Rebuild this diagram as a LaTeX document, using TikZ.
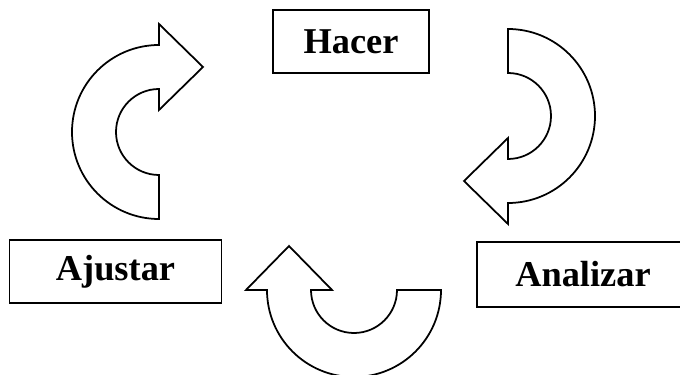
\documentclass[tikz,border=0pt]{standalone}
\usepackage{fontspec}
\setmainfont{Liberation Serif}
\tikzset{>=stealth}
\usetikzlibrary{positioning}
\tikzset{
	caja/.style={draw,line width=1pt,inner sep=0pt,minimum height=1.26cm,
		font=\bfseries\fontsize{20.7}{25}\selectfont},
	flecha/.style={draw,line width=1pt,line join=miter,fill=white}
}

\begin{document}
\begin{tikzpicture}[x=0.02cm,y=0.02cm]
		\useasboundingbox (0,0) rectangle (680,375);
		% cajas
		\node[caja,minimum width=3.12cm] (hacer) at (351,333.5) {Hacer};
		\node[caja,minimum width=4.24cm] (ajustar) at (115.5,103.5) {Ajustar};
		\node[caja,minimum width=4.24cm,minimum height=1.3cm] (analizar) at (583,100.5) {Analizar};
		% flecha arriba izquierda
		\draw[flecha] (159,156) arc[start angle=270,end angle=90,radius=87]
			-- (159,351) -- (203,308) -- (159,265) -- (159,286)
			arc[start angle=90,end angle=270,radius=43] -- cycle;
		% flecha arriba derecha
		\draw[flecha] (508,346) arc[start angle=90,end angle=-90,radius=87]
			-- (508,151) -- (464,194) -- (508,237) -- (508,216)
			arc[start angle=-90,end angle=90,radius=43] -- cycle;
		% flecha abajo
		\draw[flecha] (441,85) arc[start angle=0,end angle=-180,radius=87]
			-- (246,85) -- (289,129) -- (332,85) -- (311,85)
			arc[start angle=180,end angle=360,radius=43] -- cycle;
		%\draw (hacer) -- (analizar);
		
		\end{tikzpicture}
\end{document}
